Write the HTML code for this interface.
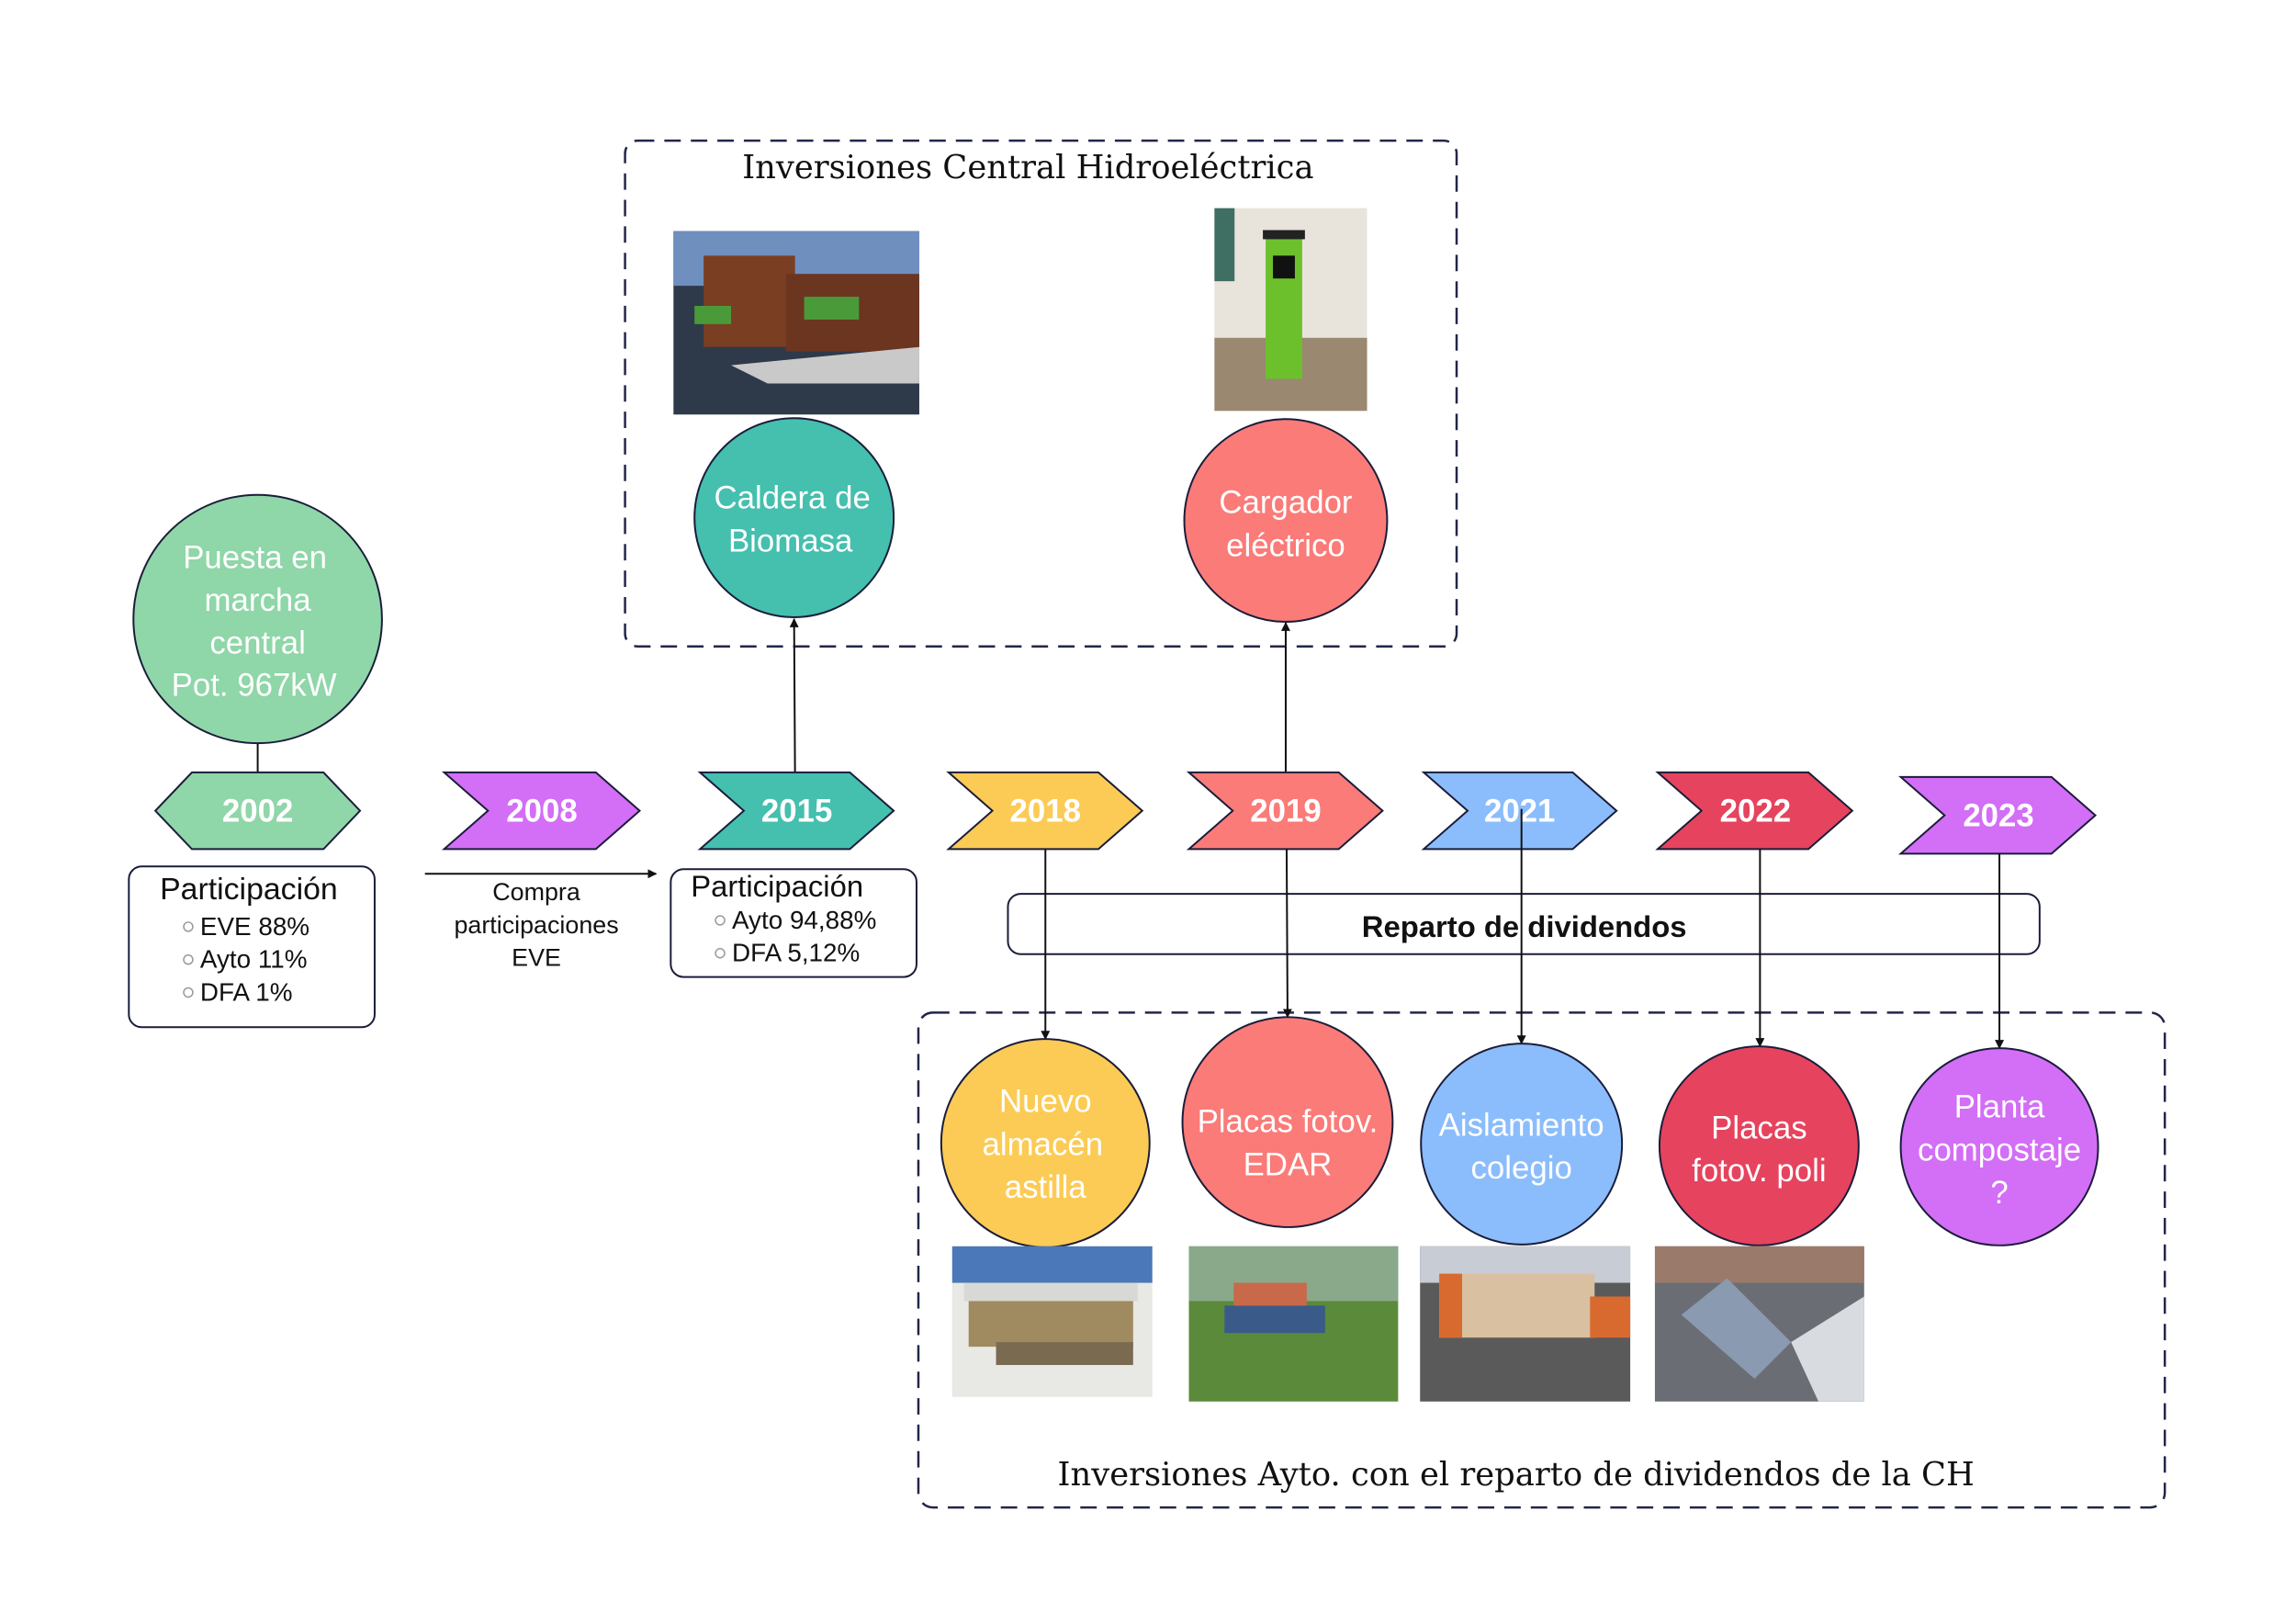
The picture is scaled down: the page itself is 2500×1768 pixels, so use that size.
<!DOCTYPE html>
<html><head><meta charset="utf-8"><style>
html,body{margin:0;padding:0;background:#fff}
svg{display:block}
.ct{font-family:"Liberation Sans",sans-serif;fill:#fff;font-size:35px;text-anchor:middle}
.yr{font-family:"Liberation Sans",sans-serif;fill:#fff;font-size:35px;font-weight:bold;text-anchor:middle}
.bt{font-family:"Liberation Sans",sans-serif;fill:#111;text-anchor:start}
.ser{font-family:"DejaVu Serif","Liberation Serif",serif;fill:#111;font-size:35.5px;text-anchor:middle}
</style></head><body>
<svg width="2500" height="1768" viewBox="0 0 2500 1768" xmlns="http://www.w3.org/2000/svg">
<defs>
<marker id="ah" markerWidth="10" markerHeight="10" refX="9" refY="5" orient="auto" markerUnits="userSpaceOnUse"><path d="M0,0 L10,5 L0,10 z" fill="#111"/></marker>
</defs>
<g transform="scale(0.995,0.994)">
<!-- dashed boxes -->
<rect x="684" y="154" width="910" height="554" rx="14" fill="none" stroke="#22264a" stroke-width="2.5" stroke-dasharray="18,11"/>
<rect x="1005" y="1109" width="1364" height="542" rx="16" fill="none" stroke="#22264a" stroke-width="2.5" stroke-dasharray="18,11"/>
<text class="ser" x="1125" y="195">Inversiones Central Hidroeléctrica</text>
<text class="ser" x="1659" y="1627">Inversiones Ayto. con el reparto de dividendos de la CH</text>

<!-- top images -->
<g>
<rect x="737" y="253" width="269" height="201" fill="#2e3a4a"/>
<rect x="737" y="253" width="269" height="60" fill="#6f8fbf"/>
<rect x="770" y="280" width="100" height="100" fill="#7a3e22"/>
<rect x="860" y="300" width="146" height="85" fill="#6b3520"/>
<rect x="760" y="335" width="40" height="20" fill="#4a9a3a"/>
<rect x="880" y="325" width="60" height="25" fill="#4a9a3a"/>
<path d="M800,400 L1006,380 L1006,420 L840,420 z" fill="#c9c9c9"/>
</g>
<g>
<rect x="1329" y="228" width="167" height="222" fill="#e8e4dc"/>
<rect x="1329" y="370" width="167" height="80" fill="#9a8870"/>
<rect x="1385" y="255" width="40" height="160" fill="#6cc02c"/>
<rect x="1382" y="252" width="46" height="10" fill="#222"/>
<rect x="1393" y="280" width="24" height="25" fill="#111"/>
<rect x="1329" y="228" width="22" height="80" fill="#3f6e62"/>
</g>

<!-- connectors -->
<line x1="282" y1="814" x2="282" y2="846" stroke="#111" stroke-width="2"/>
<line x1="870" y1="846" x2="869" y2="678" stroke="#111" stroke-width="2" marker-end="url(#ah)"/>
<line x1="1407" y1="846" x2="1407" y2="682" stroke="#111" stroke-width="2" marker-end="url(#ah)"/>
<line x1="465" y1="957" x2="718" y2="957" stroke="#111" stroke-width="2" marker-end="url(#ah)"/>

<!-- top circles -->
<circle cx="282" cy="678" r="136" fill="#8fd6a8" stroke="#1a1d3a" stroke-width="2"/>
<text class="ct" x="279" y="622">Puesta en</text>
<text class="ct" x="282" y="669">marcha</text>
<text class="ct" x="282" y="716">central</text>
<text class="ct" x="278" y="762">Pot. 967kW</text>
<circle cx="869" cy="567" r="109" fill="#45bfae" stroke="#1a1d3a" stroke-width="2"/>
<text class="ct" x="867" y="557">Caldera de</text>
<text class="ct" x="865" y="604">Biomasa</text>
<circle cx="1407" cy="570" r="111" fill="#fa7b78" stroke="#1a1d3a" stroke-width="2"/>
<text class="ct" x="1407" y="562">Cargador</text>
<text class="ct" x="1407" y="609">eléctrico</text>

<!-- year shapes -->
<polygon points="210,846 354,846 394,888 354,930 210,930 170,888" fill="#8fd6a8" stroke="#1a1d3a" stroke-width="2"/>
<text class="yr" x="282" y="900">2002</text>
<g stroke="#1a1d3a" stroke-width="2">
<polygon points="486,846 652,846 700,888 652,930 486,930 534,888" fill="#d36ef6"/>
<polygon points="766,846 930,846 978,888 930,930 766,930 814,888" fill="#45bfae"/>
<polygon points="1038,846 1202,846 1250,888 1202,930 1038,930 1086,888" fill="#fccb55"/>
<polygon points="1301,846 1465,846 1513,888 1465,930 1301,930 1349,888" fill="#fa7b78"/>
<polygon points="1558,846 1721,846 1769,888 1721,930 1558,930 1606,888" fill="#8bbdfc"/>
<polygon points="1814,846 1979,846 2027,888 1979,930 1814,930 1862,888" fill="#e6435e"/>
<polygon points="2080,851 2245,851 2293,893 2245,935 2080,935 2128,893" fill="#d36ef6"/>
</g>
<text class="yr" x="593" y="900">2008</text>
<text class="yr" x="872" y="900">2015</text>
<text class="yr" x="1144" y="900">2018</text>
<text class="yr" x="1407" y="900">2019</text>
<text class="yr" x="1663" y="900">2021</text>
<text class="yr" x="1921" y="900">2022</text>
<text class="yr" x="2187" y="905">2023</text>

<!-- participation boxes -->
<rect x="141" y="949" width="269" height="176" rx="14" fill="#fff" stroke="#1a1d3a" stroke-width="2"/>
<rect x="734" y="952" width="269" height="118" rx="14" fill="#fff" stroke="#1a1d3a" stroke-width="2"/>
<text class="bt" x="175" y="985" font-size="34">Participación</text>
<text class="bt" x="756" y="982" font-size="33">Participación</text>
<g font-family="Liberation Sans,sans-serif" font-size="28" fill="#111">
<text x="219" y="1024">EVE 88%</text>
<text x="219" y="1060">Ayto 11%</text>
<text x="219" y="1096">DFA 1%</text>
<text x="801" y="1017">Ayto 94,88%</text>
<text x="801" y="1053">DFA 5,12%</text>
</g>
<g fill="none" stroke="#999" stroke-width="1.5">
<circle cx="206" cy="1015" r="5"/><circle cx="206" cy="1051" r="5"/><circle cx="206" cy="1087" r="5"/>
<circle cx="788" cy="1008" r="5"/><circle cx="788" cy="1044" r="5"/>
</g>
<g font-family="Liberation Sans,sans-serif" font-size="27" fill="#111" text-anchor="middle">
<text x="587" y="986">Compra</text>
<text x="587" y="1022">participaciones</text>
<text x="587" y="1058">EVE</text>
</g>

<!-- reparto -->
<rect x="1103" y="979" width="1129" height="66" rx="14" fill="#fff" stroke="#1a1d3a" stroke-width="2"/>
<text x="1668" y="1026" font-family="Liberation Sans,sans-serif" font-size="33" font-weight="bold" fill="#111" text-anchor="middle">Reparto de dividendos</text>

<!-- down arrows -->
<g stroke="#111" stroke-width="2">
<line x1="1144" y1="930" x2="1144" y2="1138" marker-end="url(#ah)"/>
<line x1="1408" y1="930" x2="1409" y2="1114" marker-end="url(#ah)"/>
<line x1="1665" y1="886" x2="1665" y2="1143" marker-end="url(#ah)"/>
<line x1="1926" y1="930" x2="1926" y2="1146" marker-end="url(#ah)"/>
<line x1="2188" y1="935" x2="2188" y2="1148" marker-end="url(#ah)"/>
</g>

<!-- bottom circles -->
<g stroke="#1a1d3a" stroke-width="2">
<circle cx="1144" cy="1252" r="114" fill="#fccb55"/>
<circle cx="1409" cy="1229" r="115" fill="#fa7b78"/>
<circle cx="1665" cy="1253" r="110" fill="#8bbdfc"/>
<circle cx="1925" cy="1255" r="109" fill="#e6435e"/>
<circle cx="2188" cy="1256" r="108" fill="#d36ef6"/>
</g>
<text class="ct" x="1144" y="1218">Nuevo</text>
<text class="ct" x="1141" y="1265">almacén</text>
<text class="ct" x="1144" y="1312">astilla</text>
<text class="ct" x="1409" y="1240">Placas fotov.</text>
<text class="ct" x="1409" y="1287">EDAR</text>
<text class="ct" x="1665" y="1244">Aislamiento</text>
<text class="ct" x="1665" y="1291">colegio</text>
<text class="ct" x="1925" y="1247">Placas</text>
<text class="ct" x="1925" y="1294">fotov. poli</text>
<text class="ct" x="2188" y="1224">Planta</text>
<text class="ct" x="2188" y="1271">compostaje</text>
<text class="ct" x="2188" y="1318">?</text>

<!-- bottom images -->
<g>
<rect x="1042" y="1365" width="219" height="165" fill="#e8e8e4"/>
<rect x="1042" y="1365" width="219" height="40" fill="#4a78b8"/>
<rect x="1055" y="1405" width="190" height="20" fill="#d8d8d4"/>
<rect x="1060" y="1425" width="180" height="50" fill="#a08a60"/>
<rect x="1090" y="1470" width="150" height="25" fill="#7a6a50"/>
</g>
<g>
<rect x="1301" y="1365" width="229" height="170" fill="#5a8a3a"/>
<rect x="1301" y="1365" width="229" height="60" fill="#8aa88a"/>
<rect x="1340" y="1430" width="110" height="30" fill="#3a5a8a"/>
<rect x="1350" y="1405" width="80" height="25" fill="#c86a4a"/>
</g>
<g>
<rect x="1554" y="1365" width="230" height="170" fill="#5a5a5a"/>
<rect x="1554" y="1365" width="230" height="40" fill="#c8ccd4"/>
<rect x="1575" y="1395" width="170" height="70" fill="#d8c0a0"/>
<rect x="1575" y="1395" width="25" height="70" fill="#d86a30"/>
<rect x="1740" y="1420" width="44" height="45" fill="#d86a30"/>
</g>
<g>
<rect x="1811" y="1365" width="229" height="170" fill="#6a6e74"/>
<rect x="1811" y="1365" width="229" height="40" fill="#9a7a6a"/>
<path d="M1840,1440 L1890,1400 L1960,1470 L1920,1510 z" fill="#8a9ab0"/>
<path d="M1960,1470 L2040,1420 L2040,1535 L1990,1535 z" fill="#d8dce0"/>
</g>
</g>
</svg>
</body></html>
